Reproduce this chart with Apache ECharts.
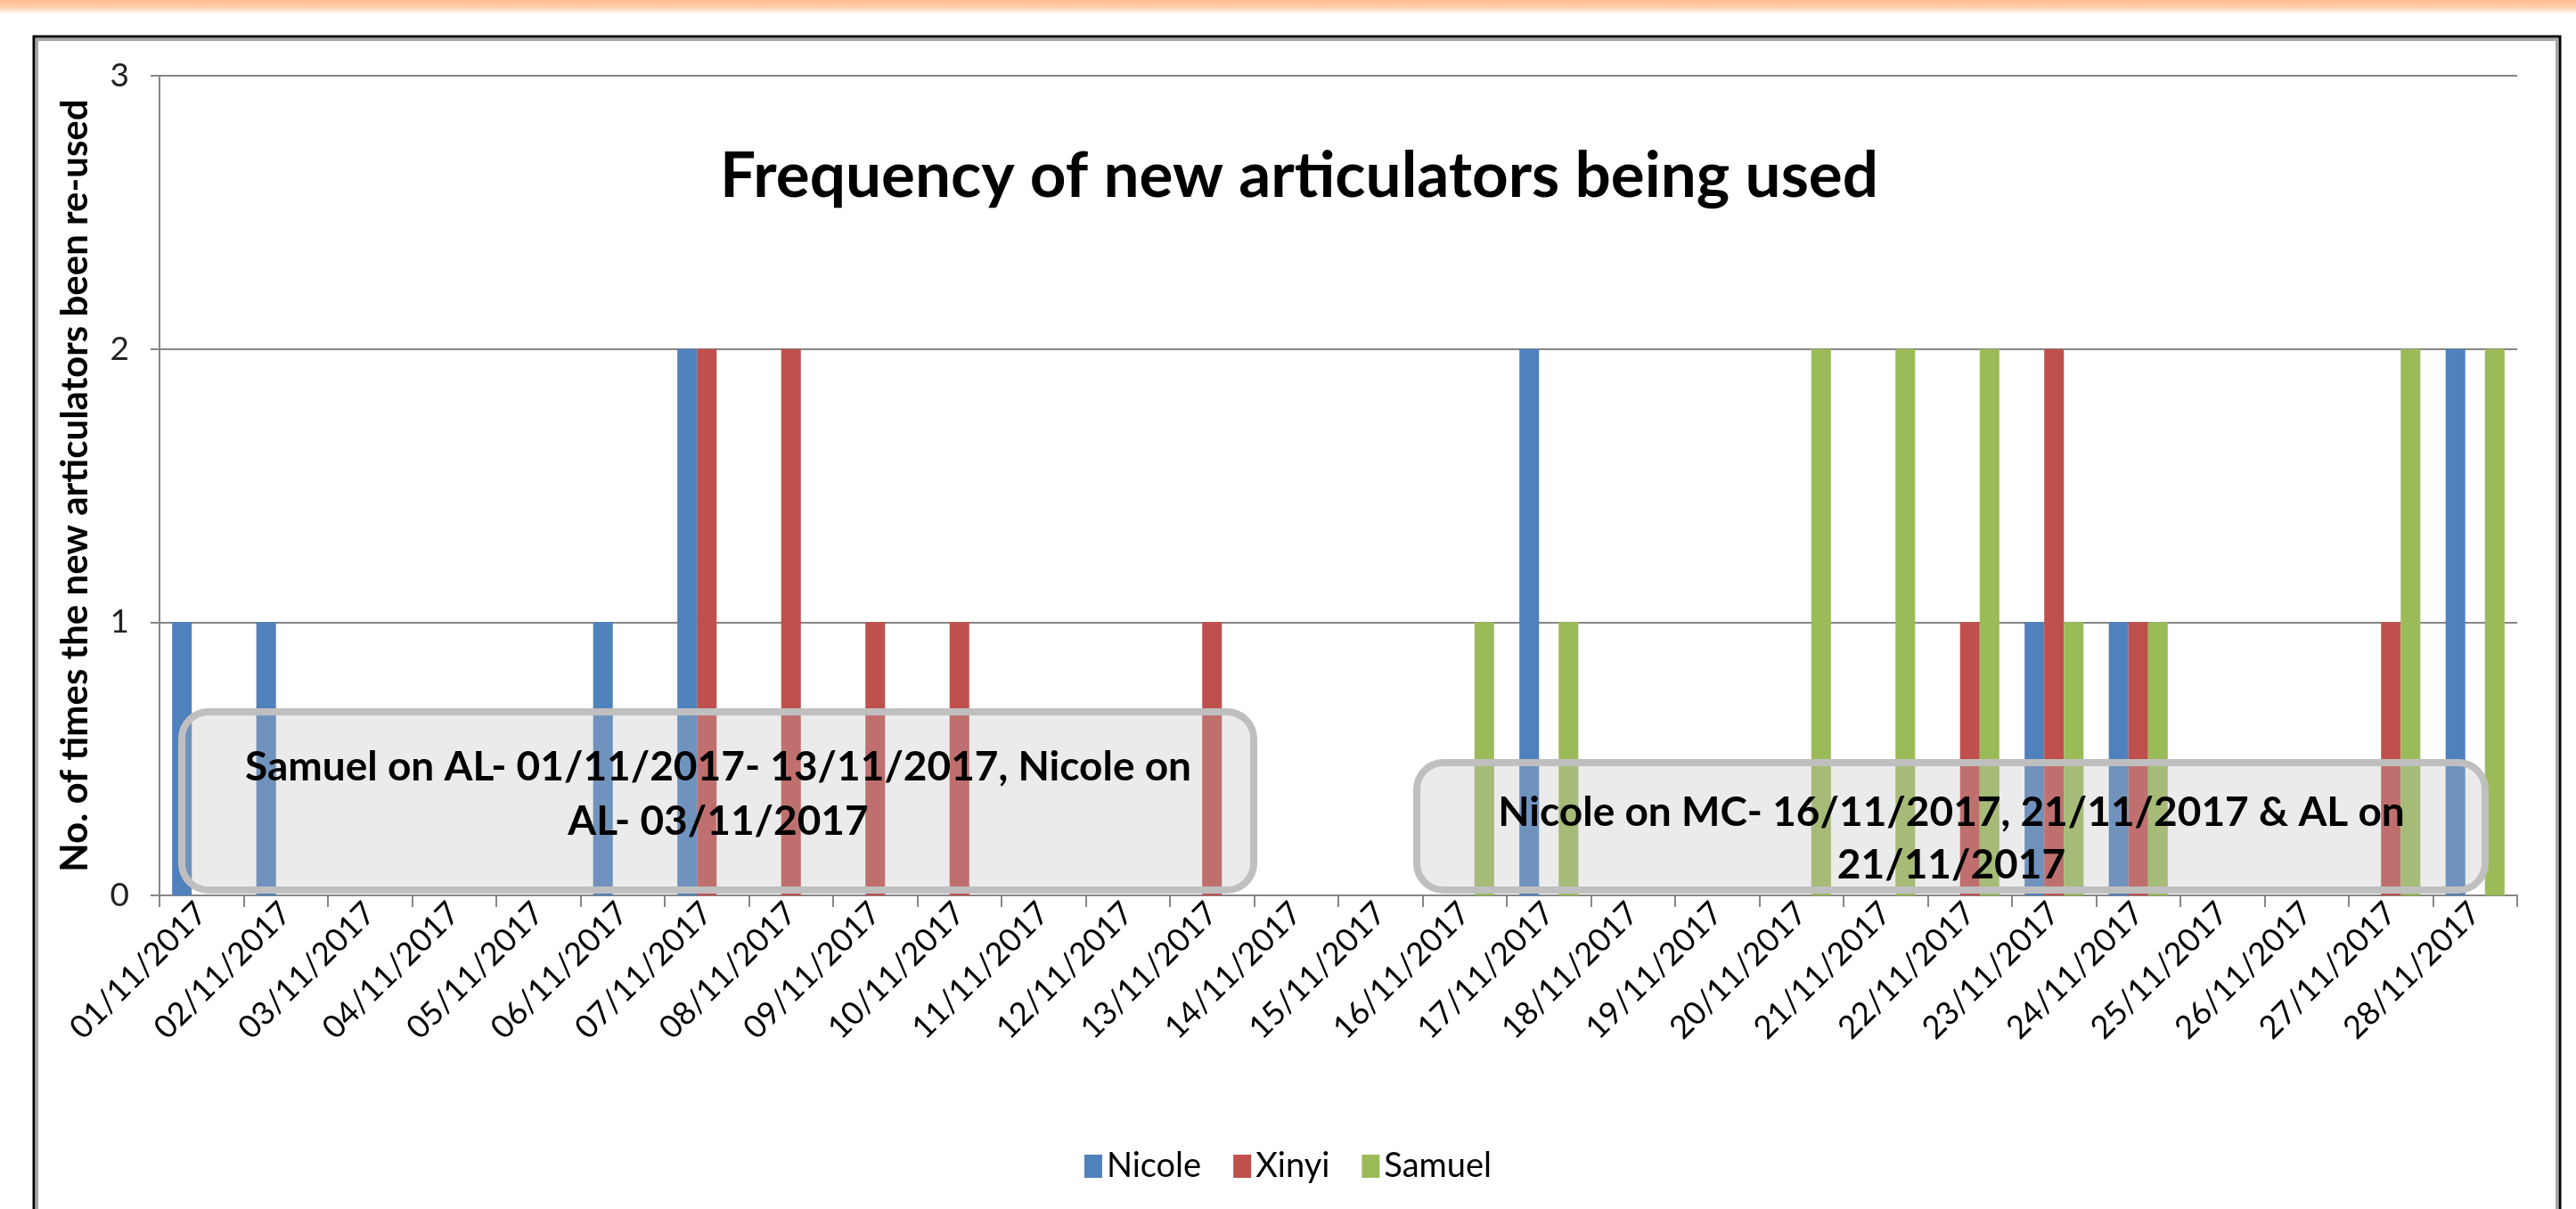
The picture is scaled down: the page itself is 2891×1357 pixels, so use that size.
<!DOCTYPE html>
<html>
<head>
<meta charset="utf-8">
<script src="https://cdn.jsdelivr.net/npm/echarts@6/dist/echarts.min.js"></script>
<style>
html,body{margin:0;padding:0;background:#fff;}
#chart{width:2891px;height:1357px;}
</style>
</head>
<body>
<div id="chart"></div>
<script>
const categories = ['01/11/2017','02/11/2017','03/11/2017','04/11/2017','05/11/2017','06/11/2017','07/11/2017','08/11/2017','09/11/2017','10/11/2017','11/11/2017','12/11/2017','13/11/2017','14/11/2017','15/11/2017','16/11/2017','17/11/2017','18/11/2017','19/11/2017','20/11/2017','21/11/2017','22/11/2017','23/11/2017','24/11/2017','25/11/2017','26/11/2017','27/11/2017','28/11/2017'];
const nicole = [1,1,0,0,0,1,2,0,0,0,0,0,0,0,0,0,2,0,0,0,0,0,1,1,0,0,0,2];
const xinyi  = [0,0,0,0,0,0,2,2,1,1,0,0,1,0,0,0,0,0,0,0,0,1,2,1,0,0,1,0];
const samuel = [0,0,0,0,0,0,0,0,0,0,0,0,0,0,0,1,1,0,0,2,2,2,1,1,0,0,2,2];
const yTicks = [0,1,2,3];
const titleText = 'Frequency of new articulators being used';
const yAxisTitle = 'No. of times the new articulators been re-used';
const note1 = 'Samuel on AL- 01/11/2017- 13/11/2017, Nicole on\nAL- 03/11/2017';
const note2 = 'Nicole on MC- 16/11/2017, 21/11/2017 & AL on\n21/11/2017';

const FONT = 'Lato, "Noto Sans", sans-serif';
const chart = echarts.init(document.getElementById('chart'));
const barBase = {type:'bar', barGap:'0%', barCategoryGap:'30%'};
chart.setOption({
  animation:false,
  backgroundColor:'#ffffff',
  title:{
    text:titleText, left:1453, top:158, textAlign:'center',
    textStyle:{fontFamily:FONT, fontWeight:'bold', fontSize:71, color:'#000'}
  },
  legend:{
    data:['Nicole','Xinyi','Samuel'], left:'center', top:1285,
    itemWidth:20, itemHeight:26, itemGap:36,
    textStyle:{fontFamily:FONT, fontSize:38, color:'#000'},
    icon:'rect'
  },
  grid:{left:179, right:66, top:85, bottom:352, containLabel:false},
  xAxis:{
    type:'category', data:categories,
    axisLine:{lineStyle:{color:'#868686', width:2}},
    axisTick:{show:true, length:13, lineStyle:{color:'#868686', width:2}},
    axisLabel:{rotate:45, interval:0, margin:14, fontFamily:FONT, fontSize:36, color:'#000'}
  },
  yAxis:{
    type:'value', min:0, max:3, interval:1,
    name:yAxisTitle, nameLocation:'middle', nameRotate:90, nameGap:74,
    nameTextStyle:{fontFamily:FONT, fontWeight:'bold', fontSize:42, color:'#000'},
    axisLine:{show:true, lineStyle:{color:'#868686', width:2}},
    axisTick:{show:true, length:10, lineStyle:{color:'#868686', width:2}},
    splitLine:{show:true, lineStyle:{color:'#868686', width:2}},
    axisLabel:{margin:34, fontFamily:FONT, fontSize:37, color:'#222',
      formatter:function(v){return yTicks.indexOf(v)>=0 ? String(v) : '';}}
  },
  series:[
    Object.assign({name:'Nicole', data:nicole, itemStyle:{color:'#4F81BD'}}, barBase),
    Object.assign({name:'Xinyi', data:xinyi, itemStyle:{color:'#C0504D'}}, barBase),
    Object.assign({name:'Samuel', data:samuel, itemStyle:{color:'#9BBB59'}}, barBase)
  ],
  graphic:[
    {type:'rect', z:0, silent:true, shape:{x:0,y:0,width:2891,height:16},
      style:{fill:new echarts.graphic.LinearGradient(0,0,0,1,[{offset:0,color:'#fdbb88'},{offset:0.5,color:'#fdd0ad'},{offset:1,color:'#ffffff'}])}},
    {type:'rect', z:0, silent:true, shape:{x:38,y:41,width:2835,height:1400},
      style:{fill:null, stroke:'#000', lineWidth:3}},
    {type:'rect', z:0, silent:true, shape:{x:41.5,y:44.5,width:2828,height:1400},
      style:{fill:null, stroke:'#a6a6a6', lineWidth:3}},
    {type:'rect', z:100, silent:true, shape:{x:204,y:799,width:1203,height:200,r:30},
      style:{fill:'rgba(190,190,190,0.3)', stroke:'#bfbfbf', lineWidth:8}},
    {type:'text', z:101, silent:true, style:{x:806, y:892, text:note1, textAlign:'center', textVerticalAlign:'middle',
      fontFamily:FONT, fontWeight:'bold', fontSize:46, lineHeight:61, fill:'#000'}},
    {type:'rect', z:100, silent:true, shape:{x:1590,y:856,width:1199,height:143,r:30},
      style:{fill:'rgba(190,190,190,0.3)', stroke:'#bfbfbf', lineWidth:8}},
    {type:'text', z:101, silent:true, style:{x:2190, y:942, text:note2, textAlign:'center', textVerticalAlign:'middle',
      fontFamily:FONT, fontWeight:'bold', fontSize:46, lineHeight:59, fill:'#000'}}
  ]
});
</script>
</body>
</html>
